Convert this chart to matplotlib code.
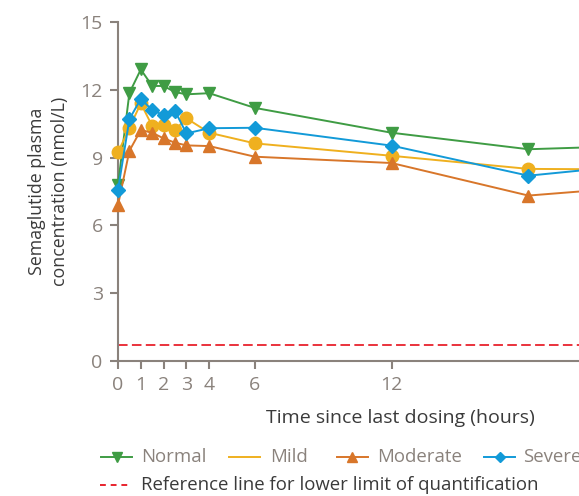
"""
Semaglutide plasma concentration by renal function group.
"""
import matplotlib
matplotlib.use('Agg')
import matplotlib.pyplot as plt
from matplotlib.lines import Line2D

plt.rcParams['font.family'] = ['Open Sans', 'DejaVu Sans']

hours = [0, 0.5, 1, 1.5, 2, 2.5, 3, 4, 6, 12, 18, 24]
normal = [7.8, 11.86, 12.9, 12.17, 12.17, 11.9, 11.8, 11.85, 11.2, 10.1, 9.37, 9.56]
mild = [9.23, 10.32, 11.4, 10.4, 10.44, 10.22, 10.74, 10.1, 9.63, 9.08, 8.5, 8.47]
moderate = [6.9, 9.3, 10.22, 10.1, 9.85, 9.66, 9.54, 9.51, 9.04, 8.76, 7.32, 7.8]
severe = [7.57, 10.7, 11.6, 11.1, 10.88, 11.06, 10.07, 10.3, 10.32, 9.53, 8.2, 8.8]
lloq = 0.73

xticks = [0, 1, 2, 3, 4, 6, 12]
yticks = [0, 3, 6, 9, 12, 15]

GREEN = '#3f9c44'
GOLD = '#efb01f'
ORANGE = '#d8762a'
BLUE = '#129ad8'
RED = '#e8222d'
AXC = '#8a827c'
TXT = '#3a3a3a'
DASH = (0, (5.3, 2.4))

W, H = 579, 496
fig = plt.figure(figsize=(W / 100, H / 100), dpi=100)
ax = fig.add_axes([118 / W, (H - 361) / H, (W - 118) / W, (361 - 22) / H])

series = [
    (normal, GREEN, 'v', 'Normal'),
    (mild, GOLD, 'o', 'Mild'),
    (moderate, ORANGE, '^', 'Moderate'),
    (severe, BLUE, 'D', 'Severe'),
]
for vals, col, mk, lab in series:
    ms = 7.5 if mk == 'D' else 9
    ax.plot(hours, vals, color=col, marker=mk, markersize=ms, lw=1.4,
            markeredgecolor=col, clip_on=False, zorder=3)

ax.axhline(lloq, color=RED, ls=DASH, lw=1.3, clip_on=False)

ax.set_xlim(0, (W - 118) / 22.8)
ax.set_ylim(0, 15)
ax.set_xticks(xticks)
ax.set_yticks(yticks)
for s in ['top', 'right']:
    ax.spines[s].set_visible(False)
for s in ['left', 'bottom']:
    ax.spines[s].set_color(AXC)
    ax.spines[s].set_linewidth(1.5)
ax.tick_params(colors=AXC, labelcolor=AXC, labelsize=14, width=1.5, length=6,
               pad=5)

ax.set_ylabel('Semaglutide plasma\nconcentration (nmol/L)', color=TXT,
              fontsize=12.8, labelpad=8, linespacing=1.35)
fig.text(400 / W, 1 - 418 / H, 'Time since last dosing (hours)', color=TXT,
         fontsize=14, ha='center', va='center')


def px(x, y):
    return x / W, 1 - y / H


def legend_item(x0, x1, xt, y, label, color, marker=None, ms=6, ls='-',
                tcolor=AXC):
    (a, b), (c, _) = px(x0, y), px(x1, y)
    fig.add_artist(Line2D([a, c], [b, b], color=color, lw=1.4, ls=ls))
    if marker:
        fig.add_artist(Line2D([(a + c) / 2], [b], color=color, marker=marker,
                              markersize=ms, lw=0))
    tx, ty = px(xt, y)
    fig.text(tx, ty, label, color=tcolor, fontsize=13.4, ha='left',
             va='center')


# legend, row 1
legend_item(101, 132, 141, 457, 'Normal', GREEN, 'v', 7)
legend_item(229, 260, 270, 457, 'Mild', GOLD)
legend_item(337, 368, 377, 457, 'Moderate', ORANGE, '^', 7)
legend_item(484, 515, 523, 457, 'Severe', BLUE, 'D', 5.5)
# legend, row 2
legend_item(100, 129, 141, 485, 'Reference line for lower limit of quantification',
            RED, ls=(0, (3, 2.5)), tcolor=TXT)

fig.savefig('out.png', dpi=100)
